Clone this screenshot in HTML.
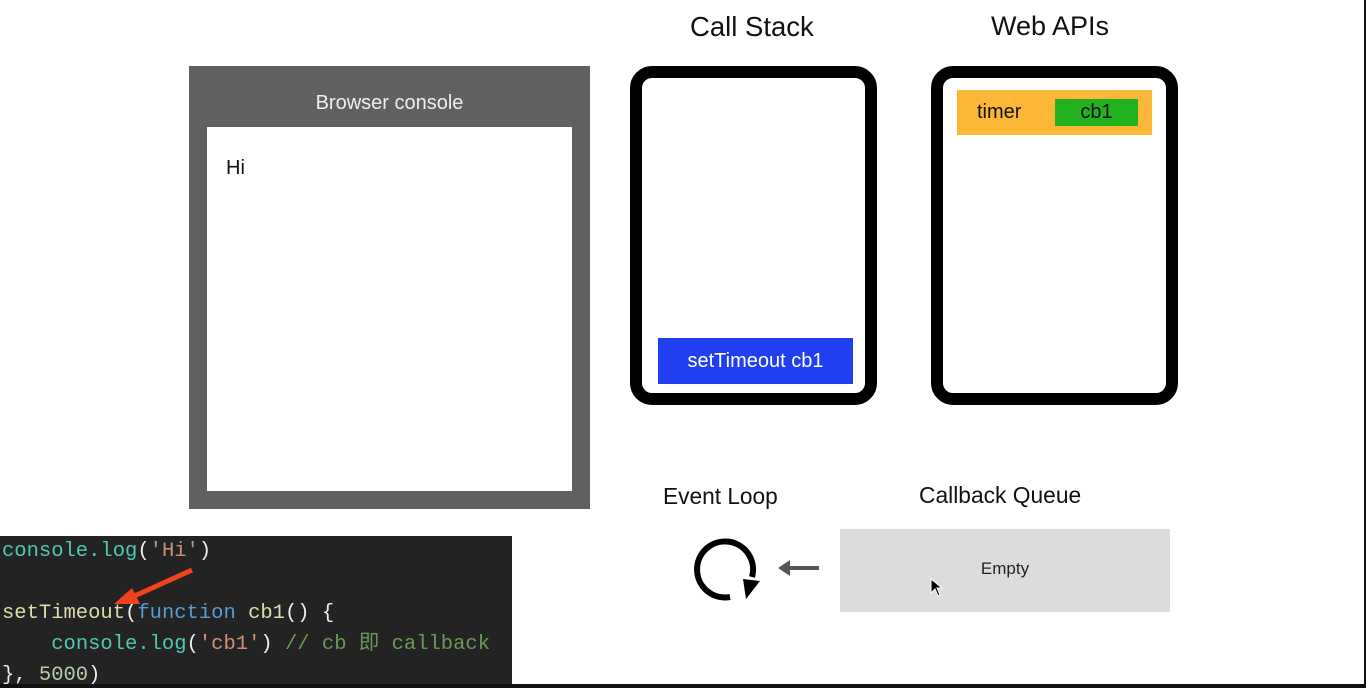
<!DOCTYPE html>
<html><head><meta charset="utf-8"><style>
*{margin:0;padding:0;box-sizing:border-box}
body{width:1366px;height:688px;background:#fff;position:relative;overflow:hidden;font-family:"Liberation Sans",sans-serif}
.a{position:absolute}
.t{position:absolute;color:#111;white-space:nowrap}
.code{font-family:"Liberation Mono","Noto Sans CJK SC",monospace}
</style></head><body>
<div class="a" style="left:189px;top:66px;width:401px;height:443px;background:#616161"></div>
<div class="t" style="left:189px;top:92px;width:401px;text-align:center;color:#eee;font-size:20px">Browser console</div>
<div class="a" style="left:207px;top:127px;width:365px;height:364px;background:#fff"></div>
<div class="t" style="left:226px;top:157px;font-size:20px">Hi</div>

<div class="t" style="left:690px;top:11px;font-size:27.5px">Call Stack</div>
<div class="t" style="left:991px;top:11px;font-size:27px">Web APIs</div>
<div class="a" style="left:630px;top:66px;width:247px;height:339px;border:12px solid #000;border-radius:22px"></div>
<div class="a" style="left:658px;top:338px;width:195px;height:46px;background:#1f3ff0;color:#fff;font-size:20px;text-align:center;line-height:46px">setTimeout cb1</div>
<div class="a" style="left:931px;top:66px;width:247px;height:339px;border:12px solid #000;border-radius:22px"></div>
<div class="a" style="left:957px;top:90px;width:195px;height:45px;background:#fbb735"></div>
<div class="t" style="left:977px;top:101px;font-size:20px">timer</div>
<div class="a" style="left:1055px;top:99px;width:83px;height:27px;background:#22b21f;font-size:20px;text-align:center;line-height:27px;color:#111">cb1</div>

<div class="t" style="left:663px;top:483px;font-size:22.7px">Event Loop</div>
<div class="t" style="left:919px;top:482px;font-size:22.8px">Callback Queue</div>
<svg class="a" style="left:690px;top:535px" width="140" height="70">
<path d="M40 62 A28 28 0 1 1 62 42" fill="none" stroke="#000" stroke-width="6"/>
<polygon points="53,44 70,46 56,64" fill="#000"/>
<line x1="98" y1="33" x2="129" y2="33" stroke="#555" stroke-width="4"/>
<polygon points="88,33 100,25 100,41" fill="#555"/>
</svg>
<div class="a" style="left:840px;top:529px;width:330px;height:83px;background:#dcdcdc;font-size:17px;text-align:center;line-height:80px;color:#222">Empty</div>
<svg class="a" style="left:930px;top:578px" width="14" height="20"><polygon points="1,1 1,15 5,11 8,18 10,17 7,10 12,10" fill="#000" stroke="#fff" stroke-width="1"/></svg>

<div class="a code" style="left:0;top:536px;width:512px;height:152px;background:#232323;font-size:20.5px;line-height:31px;padding:0 0 0 2px;white-space:pre;color:#eee"><span style="color:#4ec9b0">console.log</span>(<span style="color:#ce9178">'Hi'</span>)

<span style="color:#dcdcaa">setTimeout</span>(<span style="color:#569cd6">function</span> <span style="color:#dcdcaa">cb1</span>() {
    <span style="color:#4ec9b0">console.log</span>(<span style="color:#ce9178">'cb1'</span>) <span style="color:#6a9955">// cb 即 callback</span>
}, <span style="color:#b5cea8">5000</span>)</div>
<svg class="a" style="left:100px;top:560px" width="100" height="50"><line x1="92" y1="10" x2="30" y2="38" stroke="#f0421c" stroke-width="5"/><polygon points="14,44 32,28 40,44" fill="#f0421c"/></svg>
<div class="a" style="left:0;top:684px;width:1366px;height:4px;background:#111"></div>
<div class="a" style="left:1364px;top:0;width:2px;height:688px;background:#111"></div>
</body></html>
